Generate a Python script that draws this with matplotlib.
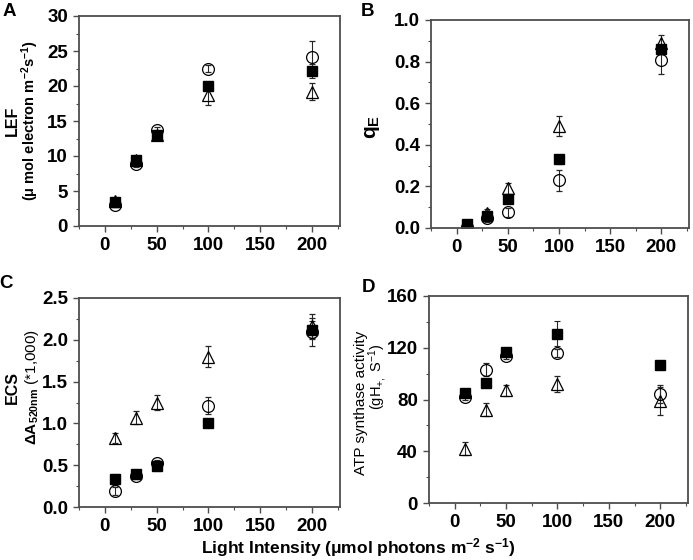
import numpy as np
import matplotlib
matplotlib.use("Agg")
import matplotlib.pyplot as plt
from matplotlib.ticker import MultipleLocator

plt.rcParams['font.family'] = ['Liberation Sans', 'DejaVu Sans']
plt.rcParams['mathtext.default'] = 'regular'
plt.rcParams['mathtext.fontset'] = 'custom'
plt.rcParams['mathtext.bf'] = 'Liberation Sans:bold'
plt.rcParams['mathtext.rm'] = 'Liberation Sans'

# light intensities (umol photons m-2 s-1)
light = [10, 30, 50, 100, 200]

# panel A - LEF
lef_sq = [3.5, 9.5, 13.0, 20.0, 22.1]
lef_sq_err = [0.3, 0.3, 0.3, 0.5, 1.0]
lef_ci = [3.0, 8.8, 13.7, 22.5, 24.2]
lef_ci_err = [0.3, 0.3, 0.5, 0.5, 2.3]
lef_tr = [3.6, 9.5, 13.0, 18.7, 19.2]
lef_tr_err = [0.4, 0.5, 0.3, 1.4, 1.2]

# panel B - qE
qe_sq = [0.02, 0.06, 0.14, 0.33, 0.86]
qe_sq_err = [0.01, 0.01, 0.02, 0.02, 0.02]
qe_ci = [0.005, 0.05, 0.075, 0.23, 0.81]
qe_ci_err = [0.01, 0.02, 0.02, 0.05, 0.07]
qe_tr = [0.01, 0.07, 0.19, 0.49, 0.89]
qe_tr_err = [0.01, 0.02, 0.025, 0.05, 0.04]

# panel C - ECS
ecs_sq = [0.33, 0.40, 0.49, 1.01, 2.12]
ecs_sq_err = [0.07, 0.02, 0.06, 0.02, 0.10]
ecs_ci = [0.19, 0.37, 0.53, 1.21, 2.09]
ecs_ci_err = [0.05, 0.03, 0.03, 0.10, 0.17]
ecs_tr = [0.83, 1.07, 1.25, 1.80, 2.16]
ecs_tr_err = [0.06, 0.08, 0.09, 0.13, 0.15]

# panel D - ATP synthase activity
atp_sq = [85, 93, 117, 131, 107]
atp_sq_err = [1, 2, 2, 10, 2]
atp_ci = [82, 103, 114, 116, 84]
atp_ci_err = [2, 5, 3, 3, 7]
atp_tr = [42, 72, 87, 92, 79]
atp_tr_err = [5, 5, 4, 6, 11]

W, H = 693, 560


def px_axes(fig, left, top, right, bottom):
    return fig.add_axes([left / W, 1 - bottom / H, (right - left) / W, (bottom - top) / H])


def draw_panel(ax, sq, sq_err, ci, ci_err, tr, tr_err, ylim, major, minor, fmt=None):
    ekw = dict(ecolor='0.15', elinewidth=0.8, capsize=2.5, capthick=0.8, linestyle='none')
    ax.errorbar(light, tr, yerr=tr_err, marker='^', ms=9, mfc='none', mec='black', mew=0.9, **ekw)
    ax.errorbar(light, ci, yerr=ci_err, marker='o', ms=8.5, mfc='none', mec='black', mew=0.9, **ekw)
    ax.errorbar(light, sq, yerr=sq_err, marker='s', ms=6.5, mfc='black', mec='black', **ekw)
    ax.set_xlim(-25, 227)
    ax.set_ylim(*ylim)
    ax.xaxis.set_major_locator(MultipleLocator(50))
    ax.xaxis.set_minor_locator(MultipleLocator(25))
    ax.yaxis.set_major_locator(MultipleLocator(major))
    ax.yaxis.set_minor_locator(MultipleLocator(minor))
    if fmt:
        ax.yaxis.set_major_formatter(plt.FormatStrFormatter(fmt))
    ax.tick_params(which='both', direction='out', top=False, right=False, color='0.3')
    ax.tick_params(which='major', length=4, width=1, labelsize=13.5, pad=4)
    ax.tick_params(which='minor', length=2.5, width=0.8)
    for lab in ax.get_xticklabels() + ax.get_yticklabels():
        lab.set_fontweight('bold')
    for sp in ax.spines.values():
        sp.set_color('0.3')
        sp.set_linewidth(1.3)


fig = plt.figure(figsize=(6.93, 5.6), dpi=100)

axA = px_axes(fig, 79, 16, 340, 226)
draw_panel(axA, lef_sq, lef_sq_err, lef_ci, lef_ci_err, lef_tr, lef_tr_err, (0, 30), 5, 2.5)

axB = px_axes(fig, 431, 20, 689, 228)
draw_panel(axB, qe_sq, qe_sq_err, qe_ci, qe_ci_err, qe_tr, qe_tr_err, (0, 1.0), 0.2, 0.1, '%.1f')

axC = px_axes(fig, 79, 298, 340, 507)
draw_panel(axC, ecs_sq, ecs_sq_err, ecs_ci, ecs_ci_err, ecs_tr, ecs_tr_err, (0, 2.5), 0.5, 0.25, '%.1f')

axD = px_axes(fig, 429, 296, 688, 503)
draw_panel(axD, atp_sq, atp_sq_err, atp_ci, atp_ci_err, atp_tr, atp_tr_err, (0, 160), 40, 20)


def ftext(x, y, s, **kw):
    fig.text(x / W, 1 - y / H, s, ha='center', va='center', **kw)


# panel letters
ftext(9, 12, 'A', fontsize=13.5, fontweight='bold')
ftext(367, 11, 'B', fontsize=13.5, fontweight='bold')
ftext(6, 283, 'C', fontsize=13.5, fontweight='bold')
ftext(368, 288, 'D', fontsize=13.5, fontweight='bold')

# y labels
ftext(12, 121, 'LEF', fontsize=11.5, fontweight='bold', rotation=90)
ftext(30, 121, '(\u03bc mol electron m$^{-2}$s$^{-1}$)', fontsize=10.5, fontweight='bold', rotation=90)
ftext(372, 127, 'q$_E$', fontsize=15, fontweight='bold', rotation=90)
ftext(12, 387, 'ECS', fontsize=11.5, fontweight='bold', rotation=90)
ftext(32, 387, r'$\mathbf{\Delta A_{520nm}}$ (*1,000)', fontsize=11, rotation=90)
ftext(361, 403, 'ATP synthase activity', fontsize=11, rotation=90)
ftext(378, 377, '(gH$_{+,}$ S$^{-1}$)', fontsize=10.5, rotation=90)

# shared x label
ftext(358, 548, 'Light Intensity (\u03bcmol photons m$^{-2}$ s$^{-1}$)', fontsize=12.5, fontweight='bold')

fig.savefig('out.png', dpi=100)
